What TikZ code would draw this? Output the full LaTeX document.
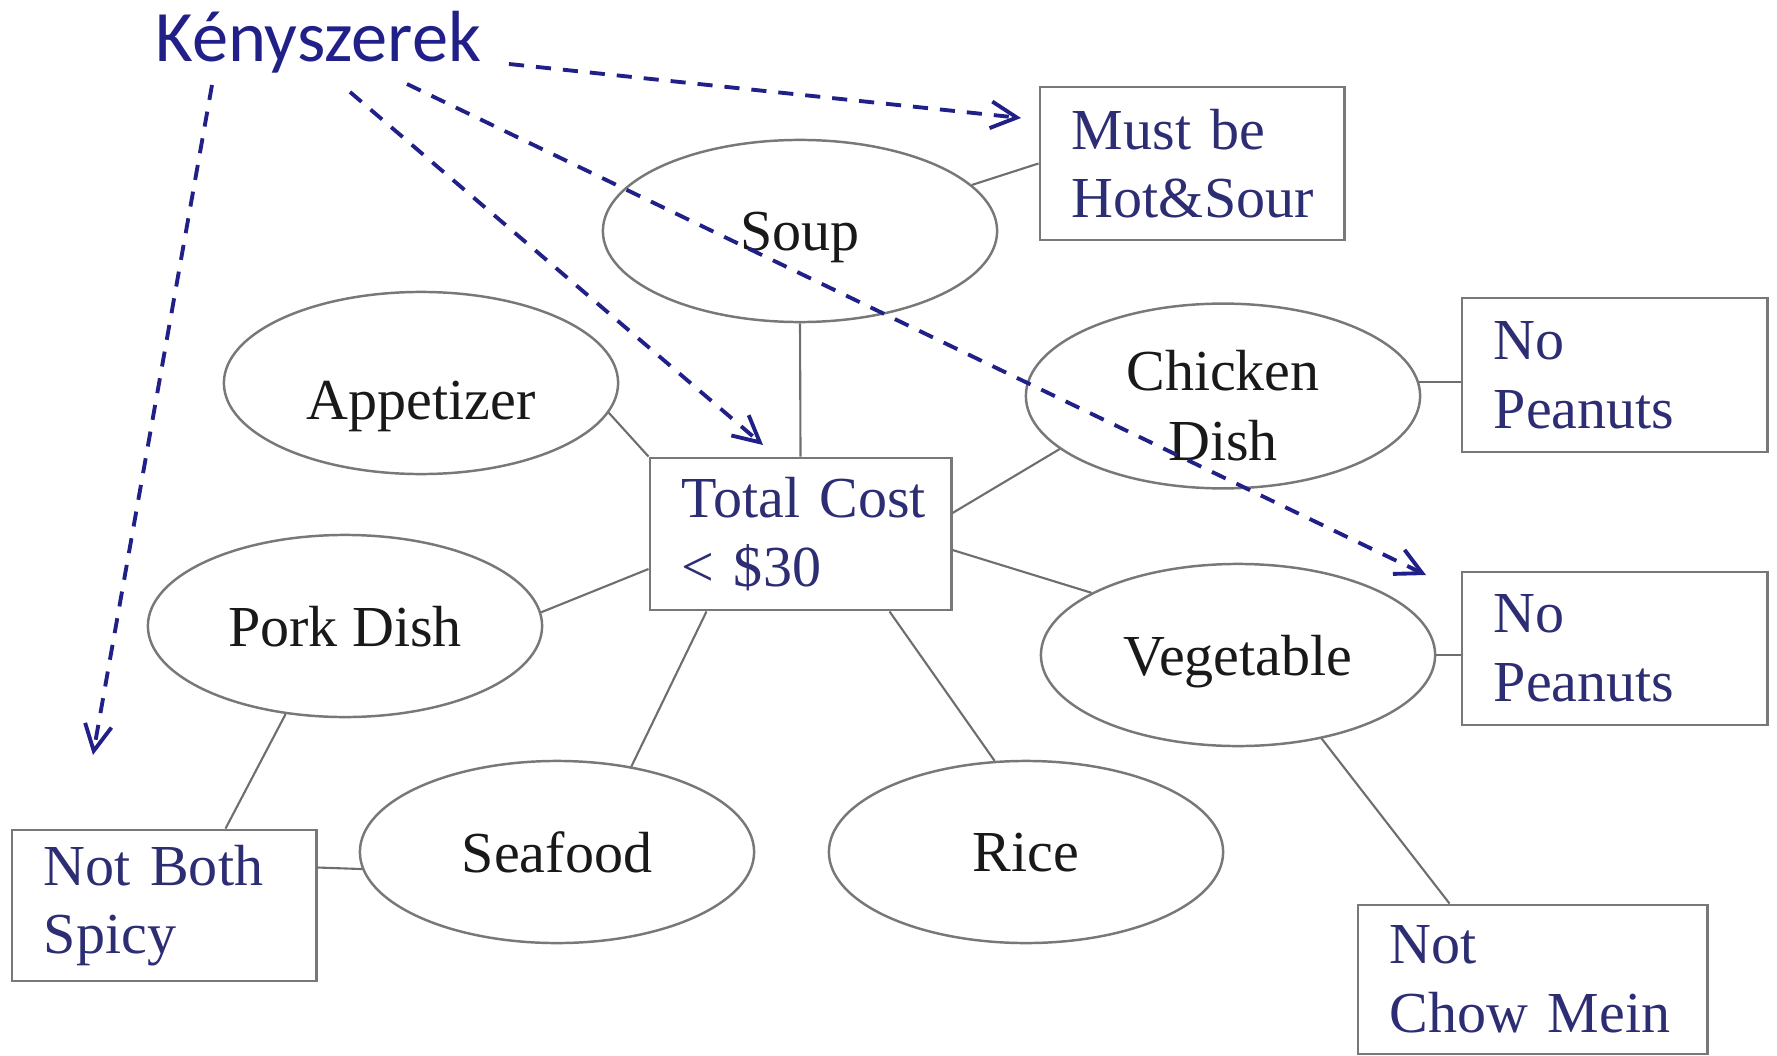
\documentclass[tikz,border=0pt]{standalone}
\usepackage{fontspec}
\setmainfont{Liberation Serif}
\newfontfamily\labelfont{Carlito}
\usetikzlibrary{shapes.geometric,arrows.meta,calc}
\definecolor{navy}{RGB}{32,32,136}
\definecolor{boxtext}{RGB}{45,45,115}
\definecolor{edge}{RGB}{120,120,120}
\definecolor{wire}{RGB}{110,110,110}
\definecolor{ink}{RGB}{25,25,25}
\hbadness=10000 \hfuzz=200pt
\begin{document}
\begin{tikzpicture}[x=0.01cm,y=-0.01cm,
  dish/.style={ellipse, draw=edge, line width=0.7pt, minimum width=3.94cm,
    minimum height=1.82cm, inner sep=0pt, text=ink, text depth=0pt,
    font=\fontsize{16.5}{20}\selectfont, align=center},
  rule/.style={rectangle, draw=edge, line width=0.8pt, inner sep=0pt,
    text=boxtext, font=\fontsize{16.5}{19.5}\selectfont, align=left},
  link/.style={draw=wire, line width=0.6pt},
  hint/.style={draw=navy, line width=1.1pt, dash pattern=on 4.3pt off 3.4pt,
    -{Straight Barb[length=7.4pt,width=7.6pt]}}
]
\useasboundingbox (0,0) rectangle (1777,1055);

% variables
\node[dish] (soup)  at (800,231)  {Soup};
\node[dish, text height=21pt] (app) at (421,383) {Appetizer};
\node[dish, text height=37pt, text depth=] (chick) at (1223,396) {Chicken\\Dish};
\node[dish] (pork)  at (345,626)  {Pork Dish};
\node[dish] (veg)   at (1238,655) {Vegetable};
\node[dish] (sea)   at (557,852)  {Seafood};
\node[dish] (rice)  at (1026,852) {Rice};

% constraints
\node[rule, minimum width=3.04cm, minimum height=1.53cm, text width=2.40cm]
  (hot) at (1192,163.5) {Must~be\\Hot\&Sour};
\node[rule, minimum width=3.01cm, minimum height=1.52cm, text width=2.37cm]
  (tc) at (800.5,534) {Total~Cost\\<~\$30};
\node[rule, minimum width=3.05cm, minimum height=1.54cm, text width=2.41cm]
  (np1) at (1614.5,375) {No\\Peanuts};
\node[rule, minimum width=3.05cm, minimum height=1.53cm, text width=2.41cm]
  (np2) at (1614.5,648.5) {No\\Peanuts};
\node[rule, minimum width=3.04cm, minimum height=1.51cm, text width=2.40cm]
  (nbs) at (164,905.5) {Not~Both\\Spicy};
\node[rule, minimum width=3.49cm, minimum height=1.49cm, text width=2.85cm]
  (ncm) at (1532.5,979.5) {Not\\Chow~Mein};

% constraint links
\draw[link] (soup.15.5) -- (hot.west);
\draw[link] (soup.south) -- (tc.north);
\draw[link] (app.-9) -- (tc.north west);
\draw[link] (chick.198) -- ($(tc.east)+(0,-21)$);
\draw[link] ($(tc.east)+(0,16)$) -- (veg.157.3);
\draw[link] (chick.4) -- (np1.west |- chick.4);
\draw[link] (veg.east) -- (np2.west |- veg.east);
\draw[link] (pork.4) -- ($(tc.west)+(0,35)$);
\draw[link] (pork.236.7) -- ($(nbs.north west)+(215,0)$);
\draw[link] ($(tc.south west)+(58,0)$) -- (sea.49);
\draw[link] ($(tc.south west)+(241,0)$) -- (rice.109);
\draw[link] (veg.-45) -- ($(ncm.north west)+(93,0)$);
\draw[link] ($(nbs.east)+(0,-38)$) -- (sea.185);

% heading and its pointers
\node[anchor=base west, inner sep=0pt, text=navy,
  font=\labelfont\fontsize{20.6}{24}\selectfont] (title) at (155,62) {Kényszerek};
\coordinate (s1) at (509,64);  \coordinate (e1) at (1021,118);
\coordinate (s2) at (350,92);  \coordinate (e2) at (763,445);
\coordinate (s3) at (407,84);  \coordinate (e3) at (1426,575);
\coordinate (s4) at (212,85);  \coordinate (e4) at (93,755);
\draw[hint] (s1) -- (e1);
\draw[hint] (s2) -- (e2);
\draw[hint] (s3) -- (e3);
\draw[hint] (s4) -- (e4);
\end{tikzpicture}
\end{document}
